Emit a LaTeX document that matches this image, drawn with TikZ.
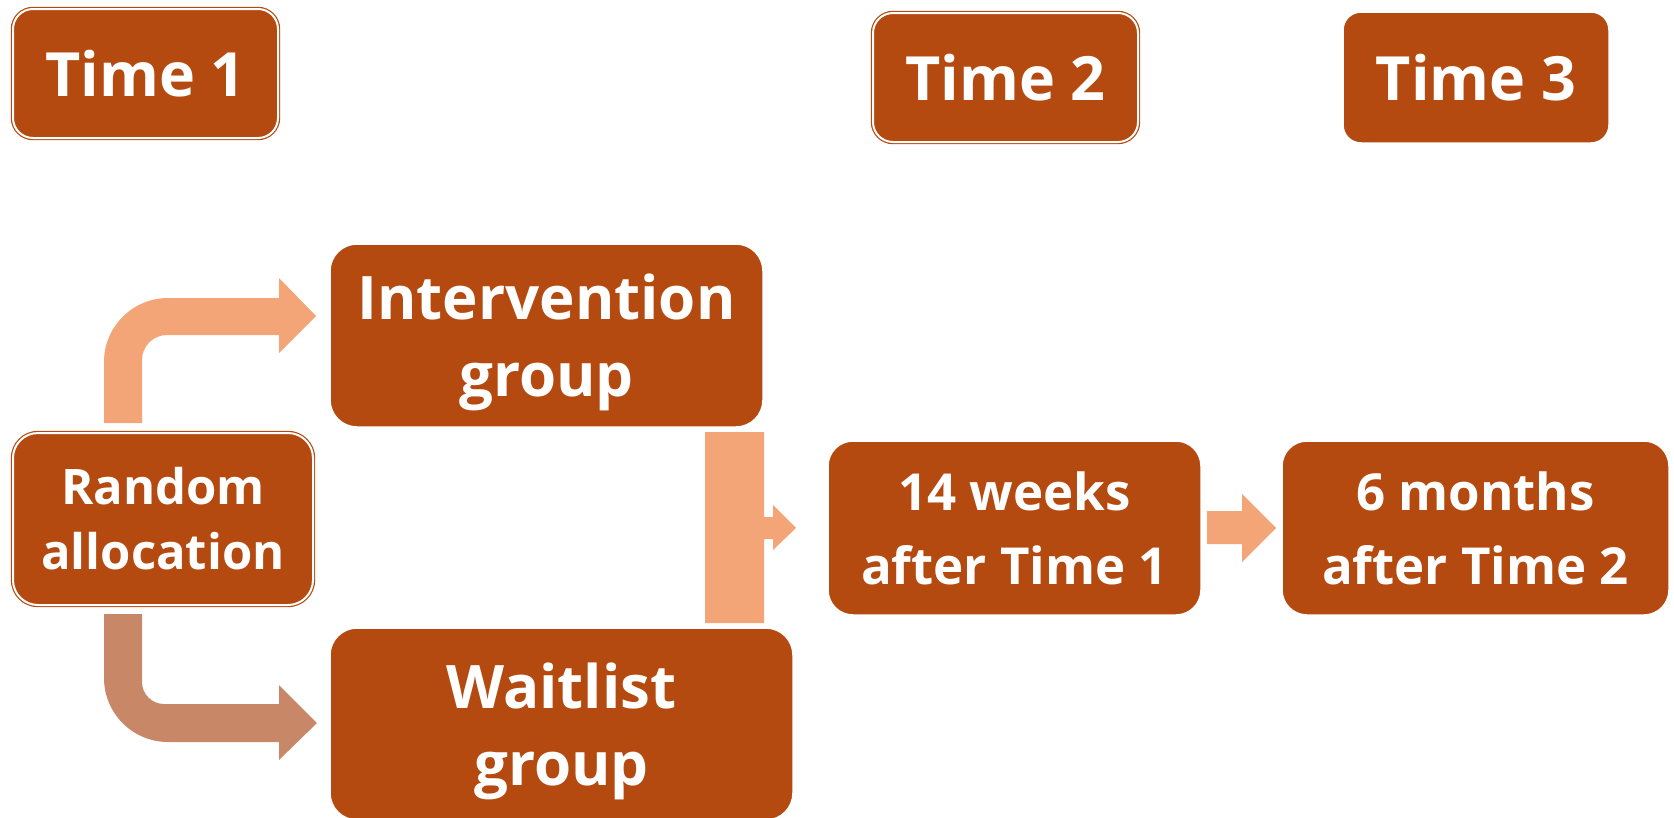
\documentclass[tikz,border=0pt]{standalone}
\usepackage{fontspec}
\setmainfont{Open Sans}
\usepackage{tikz}
\definecolor{boxfill}{RGB}{181,74,16}
\definecolor{arrowlight}{RGB}{243,165,120}
\definecolor{arrowdark}{RGB}{200,136,104}
\def\timesize{\fontsize{61}{61}\selectfont}
\def\groupsize{\fontsize{60}{77}\selectfont}
\def\randsize{\fontsize{49}{65}\selectfont}
\def\aftersize{\fontsize{51}{74}\selectfont}

\begin{document}
\begin{tikzpicture}[x=1pt,y=-1pt,
  nodes={text=white, align=center, inner sep=0pt},
  box/.style={fill=boxfill, draw=white, line width=1.5pt, rounded corners=#1},
  box/.default=26pt,
  framed/.style={fill=boxfill, draw=boxfill, double=white, double distance=2pt,
    line width=1.2pt, rounded corners=#1},
  framed/.default=20pt]
\useasboundingbox (0,0) rectangle (1674,817);

% block arrows first, the boxes sit on top of them
\fill[arrowlight] (104,423) -- (104,362) arc[start angle=180, end angle=270, radius=64]
  -- (279,298) -- (279,278) -- (316,316) -- (279,353) -- (279,335) -- (167,335)
  arc[start angle=270, end angle=180, radius=25] -- (142,423) -- cycle;
\fill[arrowdark] (104,614) -- (104,678) arc[start angle=180, end angle=90, radius=64]
  -- (279,742) -- (279,760) -- (317,723) -- (279,685) -- (279,704) -- (164,704)
  arc[start angle=90, end angle=180, radius=22] -- (142,614) -- cycle;
\fill[arrowlight] (705,432) -- (764,432) -- (764,517) -- (773,517) -- (773,505)
  -- (796,528) -- (773,550) -- (773,539) -- (764,539) -- (764,623) -- (705,623) -- cycle;
\fill[arrowlight] (1207,511) -- (1242,511) -- (1242,494) -- (1276,528)
  -- (1242,562) -- (1242,544) -- (1207,544) -- cycle;

% time points
\foreach \name/\x/\y/\txt in {t1/145.5/73.5/Time 1, t2/1005.5/77.5/Time 2}
  \node[framed, font=\bfseries\timesize, minimum width=265pt, minimum height=129pt]
    (\name) at (\x,\y) {\txt};
\node[box=18pt, font=\bfseries\timesize, minimum width=266pt, minimum height=131pt]
  (t3) at (1476,77.5) {Time 3};

% groups
\node[framed=25pt, font=\bfseries\randsize, minimum width=300pt, minimum height=172pt]
  (rand) at (163,519) {Random\\allocation};
\node[box=27pt, font=\bfseries\groupsize, minimum width=433pt, minimum height=183pt]
  (interv) at (546.5,335.5) {Intervention\\\smash{group}};
\node[box=27pt, font=\bfseries\groupsize, minimum width=463pt, minimum height=192pt]
  (wait) at (561.5,724) {Waitlist\\\smash{group}};

% follow-ups
\node[box=25pt, font=\bfseries\aftersize, minimum width=373pt, minimum height=174pt]
  (wk14) at (1014.5,528) {14 weeks\\after Time 1};
\node[box=25pt, font=\bfseries\aftersize, minimum width=387pt, minimum height=174pt]
  (mo6) at (1475.5,528) {6 months\\after Time 2};
\end{tikzpicture}
\end{document}
